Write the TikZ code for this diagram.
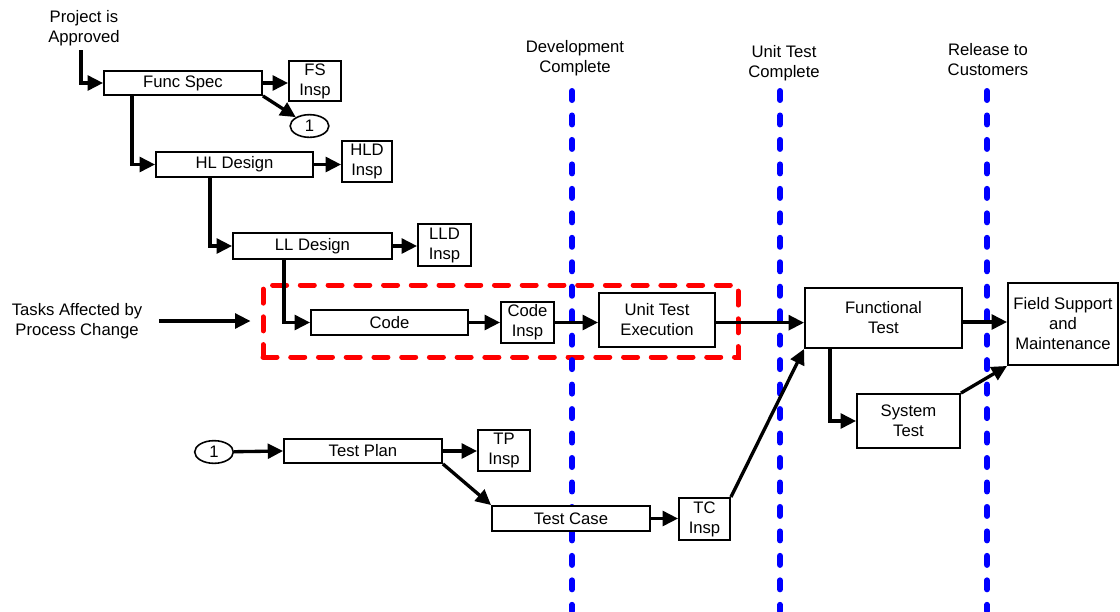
\documentclass[tikz,border=0pt]{standalone}
\usepackage{fontspec}
\setmainfont{Liberation Sans}
\usetikzlibrary{arrows.meta,calc,shapes.geometric}
\newcommand\mybox[6]{\node[box, minimum width={(#4-#2)*0.75pt}, minimum height={(#5-#3)*0.75pt}] (#1) at ({(#2+#4)/2},{(#3+#5)/2}) {#6};}
\begin{document}
\begin{tikzpicture}[x=0.75pt,y=-0.75pt,
 every node/.style={font=\fontsize{12.5}{15}\selectfont, align=center},
 box/.style={draw, line width=1.4pt, fill=white, inner sep=0pt},
 oval/.style={draw, ellipse, line width=1.2pt, fill=white, inner sep=0pt, minimum width=29pt, minimum height=17pt},
 conn/.style={line width=2.5pt, -{Triangle[length=11.5pt,width=11pt]}},
 redbox/.style={draw=red, line width=3.75pt, dash pattern=on 10.5pt off 10.3pt, line cap=round, inner sep=0pt},
 milestone/.style={draw=blue, line width=4.5pt, dash pattern=on 6.75pt off 11.6pt, line cap=round}]
\useasboundingbox (0,0) rectangle (1120,611);

% labels
\node (proj) at (84,28) {Project is\\Approved};
\node (tasks) at (77,321) {Tasks Affected by\\Process Change};
\node (dev) at (575,58) {Development\\Complete};
\node (utc) at (784,63) {Unit Test\\Complete};
\node (rel) at (988,60) {Release to\\Customers};

% affected region
\node[redbox, minimum width={475*0.75pt}, minimum height={72*0.75pt}] (aff) at (500.5,321) {};

% milestones
\coordinate (devtop) at (572,91);
\coordinate (devbot) at (572,611);
\coordinate (uttop) at (780,91);
\coordinate (utbot) at (780,611);
\coordinate (reltop) at (987,91);
\coordinate (relbot) at (987,611);
\draw[milestone] (devtop) -- (devbot);
\draw[milestone] (uttop) -- (utbot);
\draw[milestone] (reltop) -- (relbot);

% boxes
\mybox{func}{104}{71}{262}{95}{Func Spec}
\mybox{fsi}{289}{61}{341}{101}{FS\\Insp}
\node[oval] (c1) at (309.5,126) {1};
\mybox{hl}{156}{152}{313}{177}{HL Design}
\mybox{hli}{342}{141}{392}{182}{HLD\\Insp}
\mybox{ll}{233}{233}{392}{259}{LL Design}
\mybox{lli}{418}{224}{471}{266}{LLD\\Insp}
\mybox{code}{311}{310}{468}{335}{Code}
\mybox{ci}{501}{302}{554}{343}{Code\\Insp}
\mybox{ute}{599}{293}{715}{347}{Unit Test\\Execution}
\mybox{ft}{805}{288}{962}{348}{Functional\\Test}
\mybox{fld}{1008}{283}{1118}{365}{Field Support\\and\\Maintenance}
\mybox{st}{857}{394}{960}{448}{System\\Test}
\node[oval] (c2) at (214,452) {1};
\mybox{tp}{284}{439}{442}{463}{Test Plan}
\mybox{tpi}{478}{430}{530}{471}{TP\\Insp}
\mybox{tc}{492}{506}{650}{531}{Test Case}
\mybox{tci}{679}{498}{730}{540}{TC\\Insp}

% connectors
\draw[conn] ([xshift=-2.25pt]proj.south) |- (func.west);
\draw[conn] (func.east) -- (func.east -| fsi.west);
\draw[conn] (func.south east) -- (c1);
\draw[conn] ($(func.south west)+(29,0)$) |- (hl.west);
\draw[conn] (hl.east) -- (hl.east -| hli.west);
\draw[conn] ($(hl.south west)+(55,0)$) |- (ll.west);
\draw[conn] (ll.east) -- (ll.east -| lli.west);
\draw[conn] ($(ll.south west)+(52,0)$) |- (code.west);
\draw[conn] (code.east) -- (code.east -| ci.west);
\draw[conn] (ci.east) -- (ci.east -| ute.west);
\draw[conn] ([yshift=-2pt]ute.east) -- ([yshift=-2pt]ute.east -| ft.west);
\draw[conn] ([yshift=-3pt]ft.east) -- ([yshift=-3pt]ft.east -| fld.west);
\draw[conn] ($(ft.south west)+(26,0)$) |- (st.west);
\draw[conn] (st.north east) -- (fld.south west);
\draw[conn] (tci.north east) -- (ft.south west);
\draw[conn] (c2) -- (tp.west);
\draw[conn] (tp.east) -- (tp.east -| tpi.west);
\draw[conn] (tp.south east) -- (tc.north west);
\draw[conn] (tc.east) -- (tc.east -| tci.west);
\draw[conn] ([xshift=9pt]tasks.east) -- ([xshift=-7.5pt]aff.west);
\end{tikzpicture}
\end{document}
